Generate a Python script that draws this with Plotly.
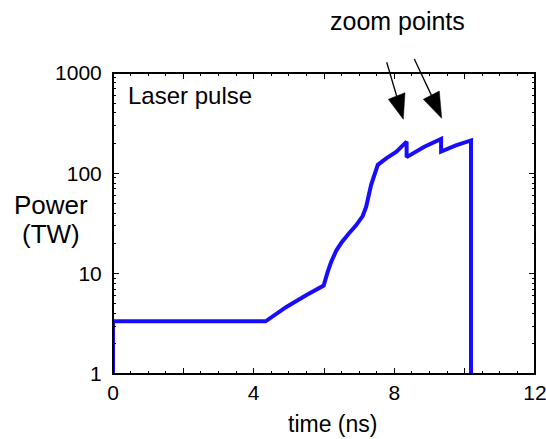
import plotly.graph_objects as go

# ---- data ----
time_ns = [0.0, 0.0, 4.34, 4.93, 5.49, 5.99, 6.10, 6.20, 6.35, 6.50, 6.70, 6.90, 7.10,
           7.20, 7.34, 7.53, 7.77, 8.06, 8.35, 8.35, 8.84, 9.33, 9.33, 9.75, 10.18, 10.18]
power_tw = [1.0, 3.35, 3.35, 4.66, 6.1, 7.6, 10.3, 13.0, 17.0, 20.5, 25.0, 30.0, 37.5,
            46.6, 76.7, 121.6, 141.0, 164.0, 207.0, 145.0, 183.0, 220.0, 165.0, 190.0, 213.0, 1.0]

x_tickvals = [0, 2, 4, 6, 8, 10, 12]
x_ticktext = ["0", "", "4", "", "8", "", "12"]
y_tickvals = [1, 10, 100, 1000]
y_ticktext = ["1", "10", "100", "1000"]

# ---- layout geometry (pixels) ----
W, H = 546, 439
L, R, T, B = 113, 11, 73, 65
PW, PH = W - L - R, H - T - B

def px(x):
    return (x - L) / PW

def py(y):
    return (H - B - y) / PH

FONT = "Liberation Sans, Arial, sans-serif"

fig = go.Figure()
fig.add_trace(go.Scatter(x=time_ns, y=power_tw, mode="lines",
                         line=dict(color="rgb(24,12,255)", width=4),
                         showlegend=False, hoverinfo="skip"))

fig.update_layout(
    width=W, height=H,
    margin=dict(l=L, r=R, t=T, b=B),
    plot_bgcolor="white", paper_bgcolor="white",
    font=dict(family=FONT, size=21, color="black"),
    xaxis=dict(range=[0, 12], tickvals=x_tickvals, ticktext=x_ticktext,
               ticks="inside", ticklen=6, showline=True, linecolor="black",
               mirror="allticks", tickcolor="black",
               automargin=False, ticklabeloverflow="allow",
               minor=dict(ticks="inside", ticklen=3, dtick=0.5, tickcolor="black")),
    yaxis=dict(type="log", range=[0, 3], tickvals=y_tickvals, ticktext=y_ticktext,
               ticks="inside", ticklen=6, showline=True, linecolor="black",
               mirror="allticks", tickcolor="black",
               automargin=False, ticklabeloverflow="allow", ticklabelstandoff=6,
               minor=dict(ticks="inside", ticklen=3, dtick="D1", tickcolor="black")),
)

# heavier frame drawn on top of the axis lines
fig.add_shape(type="rect", xref="paper", yref="paper", x0=0, y0=0, x1=1, y1=1,
              line=dict(color="black", width=2), fillcolor="rgba(0,0,0,0)")

def text(s, x, y, size, xanchor="center"):
    fig.add_annotation(text=s, x=px(x), y=py(y), xref="paper", yref="paper",
                       xanchor=xanchor, yanchor="middle", showarrow=False,
                       font=dict(family=FONT, size=size, color="black"))

text("zoom points", 397, 21, 25)
text("Laser pulse", 126, 96, 24, xanchor="left")
text("Power", 51, 205, 26)
text("(TW)", 51, 234, 26)
text("time (ns)", 332, 424, 23)

# arrows: (line start, head base corner 1, head base corner 2, tip) in pixels
arrows = [
    ((386.7, 62.3), (388.3, 99.3), (405.0, 92.7), (403.3, 119.3)),
    ((414.3, 59.0), (423.3, 99.3), (439.3, 91.0), (441.7, 118.3)),
]
for (s, c1, c2, tip) in arrows:
    bx, by = (c1[0] + c2[0]) / 2, (c1[1] + c2[1]) / 2
    fig.add_shape(type="line", xref="paper", yref="paper",
                  x0=px(s[0]), y0=py(s[1]), x1=px(bx), y1=py(by),
                  line=dict(color="black", width=1.3))
    path = "M {} {} L {} {} L {} {} Z".format(px(c1[0]), py(c1[1]), px(c2[0]), py(c2[1]),
                                              px(tip[0]), py(tip[1]))
    fig.add_shape(type="path", xref="paper", yref="paper", path=path,
                  fillcolor="black", line=dict(color="black", width=0.5))

fig.write_html("out.html")
